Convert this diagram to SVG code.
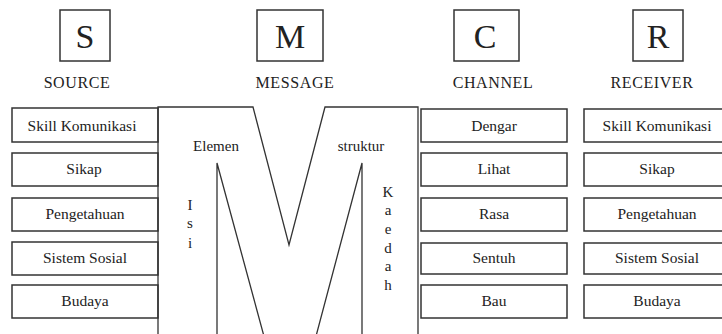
<svg xmlns="http://www.w3.org/2000/svg" width="722" height="334" viewBox="0 0 722 334">
<style>
.bx{fill:#fff;stroke:#333;stroke-width:1.5}
.ln{fill:none;stroke:#333;stroke-width:1.3}
.t{font-family:"Liberation Serif","Times New Roman",serif;fill:#222;text-anchor:middle}
.big{font-size:34px}
.hd{font-size:16px;letter-spacing:0.6px}
.lb{font-size:15.5px}
.m{font-size:15px}
</style>
<rect width="722" height="334" fill="#fff"/>
<g id="head-S"><rect class="bx" x="60" y="10" width="50" height="51"/><text class="t big" x="85" y="48">S</text><text class="t hd" x="77" y="88">SOURCE</text></g>
<g id="head-M"><rect class="bx" x="257" y="10" width="66" height="51"/><text class="t big" x="290" y="48">M</text><text class="t hd" x="295" y="88">MESSAGE</text></g>
<g id="head-C"><rect class="bx" x="454" y="10" width="65" height="51"/><text class="t big" x="485" y="48">C</text><text class="t hd" x="493" y="88">CHANNEL</text></g>
<g id="head-R"><rect class="bx" x="633" y="10" width="50" height="51"/><text class="t big" x="658" y="48">R</text><text class="t hd" x="652" y="88">RECEIVER</text></g>

<g id="source">
<g id="s1"><rect class="bx" x="12" y="108" width="146" height="34"/><text class="t lb" x="82" y="131">Skill Komunikasi</text></g>
<g id="s2"><rect class="bx" x="12" y="153" width="146" height="33"/><text class="t lb" x="84" y="174">Sikap</text></g>
<g id="s3"><rect class="bx" x="12" y="198" width="146" height="33"/><text class="t lb" x="85" y="219">Pengetahuan</text></g>
<g id="s4"><rect class="bx" x="12" y="242" width="146" height="33"/><text class="t lb" x="85" y="263">Sistem Sosial</text></g>
<g id="s5"><rect class="bx" x="12" y="285" width="146" height="33"/><text class="t lb" x="85" y="306">Budaya</text></g>
</g>

<g id="message">
<path class="ln" fill="#fff" d="M158,340 V107 H253 L289,245 L325,107 H418 V340"/>
<path class="ln" d="M217,340 V163 L265,340"/>
<path class="ln" d="M362,340 V163 L315,340"/>
<text class="t m" x="216" y="151">Elemen</text>
<text class="t m" x="361" y="151">struktur</text>
<text class="t m" x="190" y="210">I</text>
<text class="t m" x="190" y="228">s</text>
<text class="t m" x="190" y="248">i</text>
<text class="t m" x="388" y="197">K</text>
<text class="t m" x="388" y="215">a</text>
<text class="t m" x="388" y="234">e</text>
<text class="t m" x="388" y="253">d</text>
<text class="t m" x="388" y="271">a</text>
<text class="t m" x="388" y="290">h</text>
</g>

<g id="channel">
<g id="c1"><rect class="bx" x="421" y="109" width="146" height="33"/><text class="t lb" x="494" y="131">Dengar</text></g>
<g id="c2"><rect class="bx" x="421" y="153" width="146" height="33"/><text class="t lb" x="494" y="174">Lihat</text></g>
<g id="c3"><rect class="bx" x="421" y="198" width="146" height="33"/><text class="t lb" x="494" y="219">Rasa</text></g>
<g id="c4"><rect class="bx" x="421" y="243" width="146" height="31"/><text class="t lb" x="494" y="263">Sentuh</text></g>
<g id="c5"><rect class="bx" x="421" y="285" width="146" height="33"/><text class="t lb" x="494" y="306">Bau</text></g>
</g>

<g id="receiver">
<g id="r1"><rect class="bx" x="584" y="109" width="146" height="33"/><text class="t lb" x="657" y="131">Skill Komunikasi</text></g>
<g id="r2"><rect class="bx" x="584" y="153" width="146" height="33"/><text class="t lb" x="657" y="174">Sikap</text></g>
<g id="r3"><rect class="bx" x="584" y="198" width="146" height="33"/><text class="t lb" x="657" y="219">Pengetahuan</text></g>
<g id="r4"><rect class="bx" x="584" y="243" width="146" height="31"/><text class="t lb" x="657" y="263">Sistem Sosial</text></g>
<g id="r5"><rect class="bx" x="584" y="285" width="146" height="33"/><text class="t lb" x="657" y="306">Budaya</text></g>
</g>
<g id="connectors"/>
</svg>
